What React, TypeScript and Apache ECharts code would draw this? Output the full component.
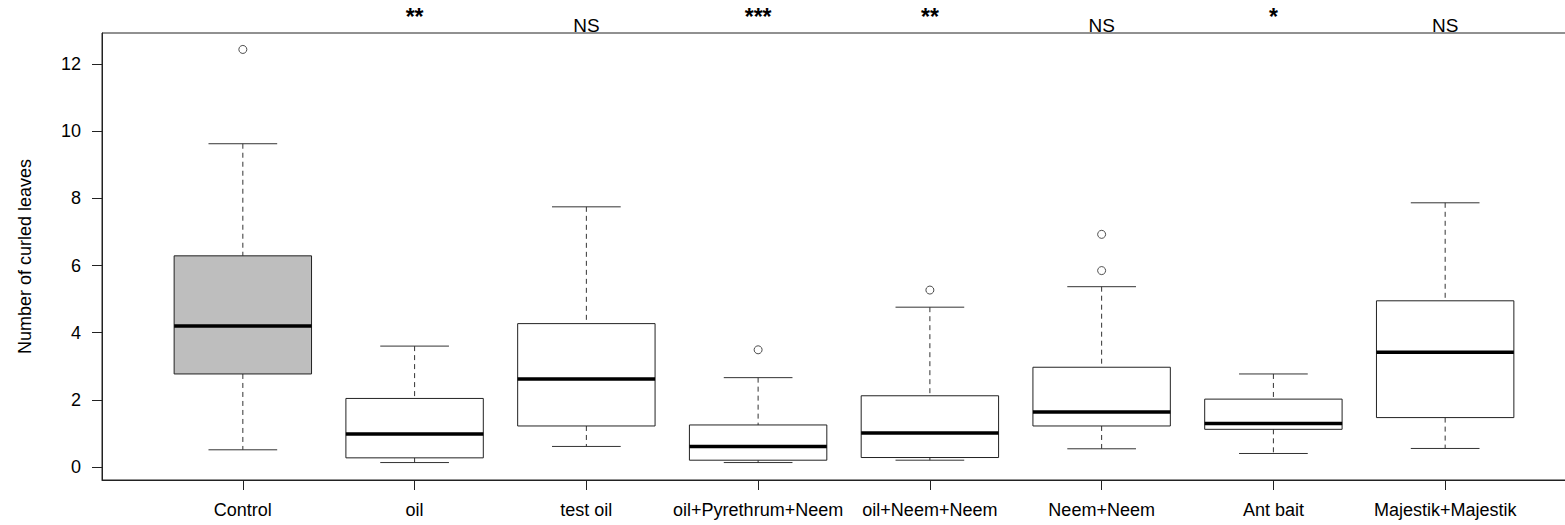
import React, { useEffect, useRef } from "react";
import * as echarts from "echarts";

const categories = [
  "Control",
  "oil",
  "test oil",
  "oil+Pyrethrum+Neem",
  "oil+Neem+Neem",
  "Neem+Neem",
  "Ant bait",
  "Majestik+Majestik",
];
// [lower whisker, Q1, median, Q3, upper whisker]
const boxStats = [
  [0.51, 2.77, 4.2, 6.29, 9.63],
  [0.13, 0.27, 0.98, 2.04, 3.6],
  [0.61, 1.22, 2.62, 4.27, 7.75],
  [0.13, 0.2, 0.61, 1.25, 2.66],
  [0.2, 0.28, 1.01, 2.12, 4.76],
  [0.54, 1.22, 1.64, 2.97, 5.37],
  [0.4, 1.12, 1.29, 2.02, 2.77],
  [0.55, 1.47, 3.42, 4.95, 7.87],
];
// [category position, value]
const outliers = [
  [1, 12.44],
  [4, 3.49],
  [5, 5.27],
  [6, 5.85],
  [6, 6.93],
];
const significance = ["", "**", "NS", "***", "**", "NS", "*", "NS"];
const yTicks = [0, 2, 4, 6, 8, 10, 12];
const boxFills = ["#BEBEBE", "#FFFFFF", "#FFFFFF", "#FFFFFF", "#FFFFFF", "#FFFFFF", "#FFFFFF", "#FFFFFF"];

const FONT = "Liberation Sans, Arial, sans-serif";

export default function App() {
  const ref = useRef<HTMLDivElement>(null);
  useEffect(() => {
    document.body.style.margin = "0";
    const chart = echarts.init(ref.current!, null, { renderer: "svg" });
    const positions = categories.map((_, i) => i + 1);
    const boxData = boxStats.map((s, i) => [positions[i], ...s]);
    const xMin = 0.18;
    const xMax = 8.82;
    chart.setOption({
      animation: false,
      backgroundColor: "#ffffff",
      textStyle: { fontFamily: FONT },
      grid: {
        left: 102,
        top: 33,
        width: 1484,
        height: 447,
        show: true,
        borderColor: "#222",
        borderWidth: 1,
        backgroundColor: "transparent",
        containLabel: false,
        outerBoundsMode: "none",
      },
      xAxis: [
        {
          type: "value",
          min: xMin,
          max: xMax,
          position: "bottom",
          axisLine: { show: true, onZero: false, lineStyle: { color: "#222", width: 1 } },
          axisTick: {
            show: true,
            length: 10,
            customValues: positions,
            lineStyle: { color: "#222" },
          },
          splitLine: { show: false },
          axisLabel: {
            customValues: positions,
            formatter: (v: number) => categories[Math.round(v) - 1] ?? "",
            fontSize: 18,
            color: "#000",
            margin: 21,
            fontFamily: FONT,
          },
        },
        {
          type: "value",
          min: xMin,
          max: xMax,
          position: "top",
          axisLine: { show: false, onZero: false },
          axisTick: { show: false },
          splitLine: { show: false },
          axisLabel: {
            customValues: positions,
            formatter: (v: number) => {
              const t = significance[Math.round(v) - 1] ?? "";
              if (!t) return "";
              return t.includes("*") ? `{s|${t}}` : `{n|${t}}`;
            },
            margin: -2,
            rich: {
              s: { fontSize: 23, fontWeight: "bold", color: "#000", fontFamily: FONT, padding: [0, 0, 7, 0] },
              n: { fontSize: 19, color: "#000", fontFamily: FONT, padding: [0, 0, 0, 0] },
            },
          },
        },
      ],
      yAxis: {
        type: "value",
        min: -0.39,
        max: 12.93,
        name: "Number of curled leaves",
        nameLocation: "middle",
        nameRotate: 90,
        nameGap: 68,
        nameTextStyle: { fontSize: 18, color: "#000", fontFamily: FONT },
        axisLine: { show: true, onZero: false, lineStyle: { color: "#222", width: 1 } },
        axisTick: { show: true, length: 10, customValues: yTicks, lineStyle: { color: "#222" } },
        splitLine: { show: false },
        axisLabel: {
          customValues: yTicks,
          fontSize: 18,
          color: "#000",
          margin: 21,
          fontFamily: FONT,
        },
      },
      series: [
        {
          type: "custom",
          xAxisIndex: 0,
          yAxisIndex: 0,
          data: boxData,
          encode: { x: 0, y: [1, 2, 3, 4, 5] },
          renderItem: (params: any, api: any) => {
            const x = api.value(0);
            const lo = api.value(1);
            const q1 = api.value(2);
            const med = api.value(3);
            const q3 = api.value(4);
            const hi = api.value(5);
            const half = 0.4;
            const capHalf = 0.2;
            const tl = api.coord([x - half, q3]);
            const br = api.coord([x + half, q1]);
            const medL = api.coord([x - half, med]);
            const medR = api.coord([x + half, med]);
            const c = api.coord([x, hi]);
            const cq3 = api.coord([x, q3]);
            const cq1 = api.coord([x, q1]);
            const cl = api.coord([x, lo]);
            const capHiL = api.coord([x - capHalf, hi]);
            const capHiR = api.coord([x + capHalf, hi]);
            const capLoL = api.coord([x - capHalf, lo]);
            const capLoR = api.coord([x + capHalf, lo]);
            const fill = boxFills[params.dataIndex];
            const dash = { stroke: "#333", lineWidth: 1, lineDash: [5, 4] };
            const solid = { stroke: "#333", lineWidth: 1 };
            return {
              type: "group",
              children: [
                { type: "line", shape: { x1: c[0], y1: c[1], x2: cq3[0], y2: cq3[1] }, style: dash },
                { type: "line", shape: { x1: cq1[0], y1: cq1[1], x2: cl[0], y2: cl[1] }, style: dash },
                { type: "line", shape: { x1: capHiL[0], y1: capHiL[1], x2: capHiR[0], y2: capHiR[1] }, style: solid },
                { type: "line", shape: { x1: capLoL[0], y1: capLoL[1], x2: capLoR[0], y2: capLoR[1] }, style: solid },
                {
                  type: "rect",
                  shape: { x: tl[0], y: tl[1], width: br[0] - tl[0], height: br[1] - tl[1] },
                  style: { fill, stroke: "#222", lineWidth: 1 },
                },
                {
                  type: "line",
                  shape: { x1: medL[0], y1: medL[1], x2: medR[0], y2: medR[1] },
                  style: { stroke: "#000", lineWidth: 3.5 },
                },
              ],
            };
          },
        },
        {
          type: "scatter",
          xAxisIndex: 0,
          yAxisIndex: 0,
          data: outliers,
          symbol: "circle",
          symbolSize: 8,
          itemStyle: { color: "#ffffff", borderColor: "#222", borderWidth: 1 },
        },
      ],
    });
    return () => chart.dispose();
  }, []);
  return <div ref={ref} style={{ width: 1565, height: 525 }} />;
}
